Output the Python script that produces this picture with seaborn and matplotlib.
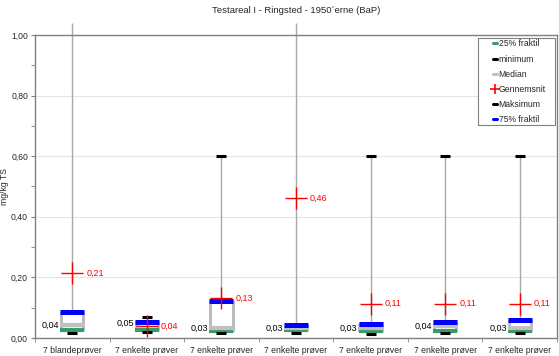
import numpy as np
import pandas as pd
import matplotlib
matplotlib.use("Agg")
import matplotlib.pyplot as plt
import seaborn as sns
from matplotlib.lines import Line2D
from matplotlib.patches import Rectangle
from matplotlib.ticker import FuncFormatter, MultipleLocator

# --- data ---
title = "Testareal I - Ringsted - 1950´erne (BaP)"
categories = ["7 blandeprøver"] + ["7 enkelte prøver"] * 6
minimum = [0.017, 0.020, 0.017, 0.017, 0.013, 0.015, 0.015]
q25 = [0.026, 0.026, 0.023, 0.025, 0.023, 0.023, 0.023]
median = [0.043, 0.048, 0.033, 0.032, 0.032, 0.038, 0.033]
mean = [0.214, 0.040, 0.132, 0.462, 0.113, 0.113, 0.113]
q75 = [0.086, 0.052, 0.122, 0.043, 0.046, 0.053, 0.060]
maximum = [1.04, 0.069, 0.60, 1.04, 0.60, 0.60, 0.60]

pos = np.arange(len(categories))
df = pd.DataFrame({"pos": pos, "min": minimum, "q25": q25, "median": median,
                   "mean": mean, "q75": q75, "max": maximum})

sns.set_style("white")
plt.rcParams["font.family"] = ["Liberation Sans", "DejaVu Sans"]

fig = plt.figure(figsize=(5.59, 3.56), dpi=100)
ax = fig.add_axes([35 / 559, 18 / 356, 522 / 559, 303 / 356])

green = "#3a9a6a"
grey = "#c0c0c0"
blue = "#0000ff"
red = "#ff0000"
fs = 6.2

# whiskers and boxes
ax.vlines(df["pos"], df["min"], df["max"], color="#a8a8a8", lw=1, zorder=1, clip_on=False)
ax.bar(df["pos"], df["q75"] - df["q25"], bottom=df["q25"], width=0.3,
       color="white", edgecolor="#b8b8b8", linewidth=2, joinstyle="round", zorder=1.5)

def marks(col, color, size, mew, marker="_"):
    sns.pointplot(data=df, x="pos", y=col, native_scale=True, errorbar=None,
                  linestyle="none", marker=marker, markersize=size,
                  markeredgewidth=mew, color=color, ax=ax)

marks("q25", green, 17, 3)
marks("median", grey, 17, 3)
marks("q75", blue, 17, 3.6)
marks("min", "black", 7, 2.2)
marks("max", "black", 7, 2.2)
marks("mean", red, 16, 1, marker="+")

fmt = lambda v: f"{v:.2f}".replace(".", ",")
for p, m, a in zip(pos, median, mean):
    ax.annotate(fmt(m), (p, m), xytext=(-13, 0), textcoords="offset pixels",
                ha="right", va="center", fontsize=fs + 0.3, color="black")
    ax.annotate(fmt(a), (p, a), xytext=(14, 0), textcoords="offset pixels",
                ha="left", va="center", fontsize=fs + 0.3, color=red)

# axes styling
ax.set_xlim(-0.5, len(categories) - 0.5)
ax.set_ylim(0, 1.0)
ax.set_xticks(pos)
ax.set_xticklabels(categories, fontsize=fs)
ax.set_xticks(np.arange(len(categories) + 1) - 0.5, minor=True)
ax.tick_params(axis="x", which="major", length=0, pad=6)
ax.tick_params(axis="x", which="minor", length=3, color="#808080", direction="out", bottom=True)
ax.yaxis.set_major_locator(MultipleLocator(0.2))
ax.yaxis.set_minor_locator(MultipleLocator(0.1))
ax.yaxis.set_major_formatter(FuncFormatter(lambda v, _: fmt(v)))
ax.tick_params(axis="y", which="both", length=3, color="#808080", direction="out",
               left=True, labelsize=fs, pad=2)
ax.grid(axis="y", which="major", color="#e4e4e4", lw=0.8)
ax.set_axisbelow(True)
for s in ax.spines.values():
    s.set_color("#808080")
    s.set_linewidth(1)
ax.set_xlabel("")
ax.set_ylabel("mg/kg TS", fontsize=fs)
ax.yaxis.set_label_coords(-0.05, 0.5)
ax.set_title(title, fontsize=6.8, pad=16)

handles = [
    Line2D([], [], color=green, lw=2.2),
    Line2D([], [], color="black", lw=2.2),
    Line2D([], [], color=grey, lw=2.2),
    Line2D([], [], color=red, lw=0, marker="+", markersize=7, markeredgewidth=1.2),
    Line2D([], [], color="black", lw=2.2),
    Line2D([], [], color=blue, lw=2.2),
]
labels = ["25% fraktil", "minimum", "Median", "Gennemsnit", "Maksimum", "75% fraktil"]
# legend frame drawn separately (wide horizontal padding as in the reference)
ax.add_patch(Rectangle((443 / 522, 213 / 303), 77 / 522, 87 / 303, transform=ax.transAxes,
                       facecolor="white", edgecolor="#808080", lw=0.8, zorder=5))
leg = ax.legend(handles, labels, loc="upper left", bbox_to_anchor=(455 / 522, 0.994),
                borderaxespad=0, fontsize=fs, handlelength=0.5, handletextpad=0.2,
                frameon=False, labelspacing=0.72, borderpad=0.3)
leg.set_zorder(6)

fig.savefig("out.png", dpi=100)
